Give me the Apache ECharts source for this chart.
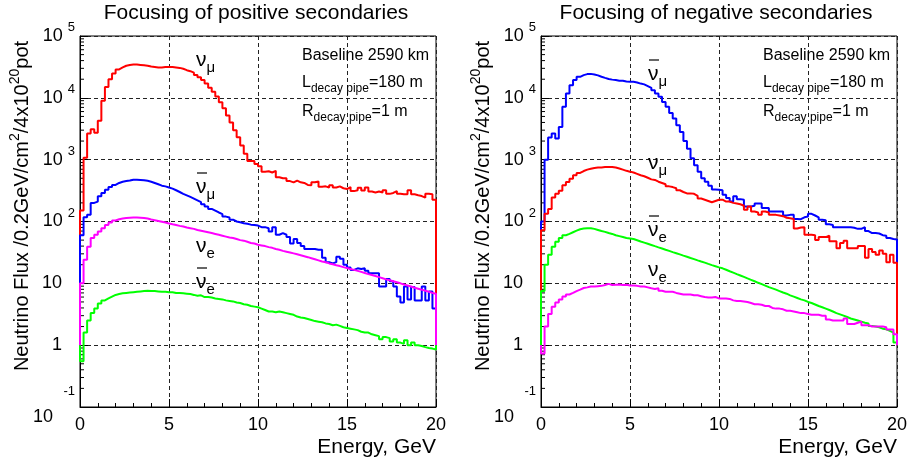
<!DOCTYPE html>
<html><head><meta charset="utf-8">
<script src="https://cdn.jsdelivr.net/npm/echarts@6/dist/echarts.min.js"></script>
<style>html,body{margin:0;padding:0;background:#fff}#c{width:912px;height:466px}</style>
</head><body><div id="c"></div>
<script>
// ---- data: bin low edges (GeV), 100 bins of 0.2 GeV ----
const binLow = Array.from({length: 100}, (_, i) => +(i * 0.2).toFixed(1));
const xTicks = [0, 5, 10, 15, 20];
const panelTitles = ['Focusing of positive secondaries', 'Focusing of negative secondaries'];

// Left panel: positive focusing
const posNuMu = [150,1070,2660,3100,2720,4270,8950,15000,19900,24800,
 28800,31000,33000,34000,34500,34500,34000,33500,33000,32000,
 31500,31000,31000,31500,31500,31500,31000,30500,29500,28000,
 27000,25500,23500,21500,19500,17000,14500,12500,10500,8500,
 6800,5200,4000,3000,2300,1700,1250,950,950,850,
 780,640,650,620,660,520,500,500,450,430,
 460,430,420,390,385,430,445,365,370,355,
 385,355,370,345,335,360,310,320,350,318,
 355,305,295,305,295,320,280,290,310,280,
 275,275,320,275,265,258,243,280,275,225];
const posAntiNuMu = [60,117,128,200,210,255,290,325,360,390,
 420,440,450,460,475,475,470,465,455,440,
 420,400,380,370,355,340,320,300,280,265,
 250,235,220,205,190,175,160,150,140,132,
 120,116,107,100,97,94,92,89,88,86,
 81,81,78,69,81,61,65,61,56,44,
 52,45,40,36,36,36,35,35,26,22,
 21,22,27,25,20,18,16.5,17.5,17,17.5,
 16,14.5,14.5,14.5,8.9,8.9,11.7,10.8,8.9,6.1,
 4.9,8.9,5.5,8.7,5.3,5.3,8.9,5.3,7.4,3.9];
const posNuE = [10,24,39,54,61,69,78,88,96,104,
 109,112,114,115,116,116,115,114,112,108,
 105,102,99,96,93,90,88,85,83,80,
 78,76,73,71,69,67,65,63,61,59,
 57,55,54,52,50,49,47,45,44,42,
 41,40,38.5,37.5,36,35,33.5,32.5,31.5,30.5,
 29.5,28.5,27.5,26.5,25.5,24.5,23.5,22.5,22,21,
 20.3,19.6,19,18.3,17.7,17.1,16.5,15.9,15.3,14.7,
 14.1,13.6,13.1,12.6,12.1,11.6,11.2,10.8,10.4,10,
 9.6,9.2,8.9,8.5,8.2,7.9,7.6,7.3,7.0,6.8];
const posAntiNuE = [0.55,1.6,2.5,3.3,3.9,4.7,5.3,5.7,6.1,6.5,
 6.7,6.9,7.0,7.1,7.2,7.3,7.4,7.5,7.6,7.5,
 7.5,7.4,7.3,7.3,7.2,7.2,7.0,7.0,6.9,6.8,
 6.7,6.5,6.3,6.4,6.0,6.0,5.9,5.7,5.6,5.5,
 5.3,5.2,5.1,4.9,4.8,4.6,4.5,4.3,4.2,4.1,
 3.9,3.7,3.5,3.5,3.4,3.5,3.4,3.3,3.2,3.1,
 2.9,2.8,2.75,2.65,2.55,2.45,2.4,2.35,2.25,2.2,
 2.1,2.15,2.05,1.95,1.9,1.85,1.8,1.75,1.65,1.6,
 1.6,1.5,1.45,1.4,1.25,1.35,1.3,1.15,1.25,1.1,
 1.05,1.2,1.0,1.1,1.0,0.97,0.93,0.9,0.88,0.85];

// Right panel: negative focusing
const negAntiNuMu = [100,1000,2280,2640,2190,3380,7150,11700,16000,19400,
 21900,23300,24200,24400,23900,23100,21900,21000,20200,19700,
 19400,18900,18900,18400,18200,18200,17700,17000,16500,15500,
 14500,13300,11700,10400,8600,7150,5700,4620,3600,2800,
 2000,1500,1050,810,640,500,440,380,330,326,
 320,270,240,210,255,230,225,175,175,180,
 195,195,165,165,145,145,145,145,125,128,
 128,110,109,117,120,133,125,117,107,105,
 90,88,81,81,81,81,81,79,76,76,
 81,70,65,65,64,60,59,54,52,51];
const negNuMu = [72,133,160,245,280,315,385,435,490,560,
 610,655,690,715,735,745,750,760,760,760,
 745,720,690,660,640,620,590,560,540,510,
 480,470,440,420,400,370,360,345,320,300,
 285,285,280,260,235,225,215,205,215,225,
 225,210,210,200,195,190,180,155,175,145,
 140,128,145,140,128,128,125,122,115,113,
 110,77,80,81,61,61,60,50,56,56,
 59,48,48,37,45,49,37,37,37,40,
 40,26,36,32,29,34,30,22,29,21.6];
const negAntiNuE = [7.5,20,29,39,47,54,60,63,67,71,
 75,77,78,78,76,73,70,68,65,63,
 60,58,56,54,53,52,49.8,47.6,45.6,43.6,
 41.7,39.9,38.2,36.6,35,33.5,32,30.7,29.4,28.1,
 26.9,25.7,24.6,23.5,22.5,21.6,20.6,19.7,18.9,18.1,
 17.5,16.6,15.7,14.9,14.1,13.4,12.7,12.0,11.4,10.8,
 10.2,9.7,9.2,8.7,8.3,7.9,7.5,7.1,6.8,6.4,
 6.1,5.8,5.5,5.3,5.0,4.8,4.55,4.3,4.1,3.9,
 3.7,3.5,3.3,3.15,3.0,2.85,2.7,2.6,2.5,2.4,
 2.3,2.25,2.05,2.0,1.95,1.85,1.8,1.7,1.6,1.1];
const negNuE = [0.73,2.0,3.2,4.2,4.9,5.5,6.1,6.6,7.0,7.5,
 7.9,8.4,8.6,8.9,8.9,9.0,9.1,9.4,9.8,9.4,
 9.5,9.6,9.4,9.5,9.2,9.2,9.1,8.9,8.9,8.6,
 8.3,8.1,8.3,7.6,7.3,7.3,7.3,7.0,6.8,6.6,
 6.6,6.6,6.4,6.4,6.2,6.0,5.9,5.9,6.0,5.7,
 5.7,5.7,5.6,5.3,5.2,5.2,5.1,5.0,4.8,4.6,
 4.6,4.5,4.3,4.3,4.0,3.9,3.9,3.8,3.6,3.6,
 3.5,3.4,3.3,3.3,3.2,3.1,3.1,3.1,3.0,3.0,
 2.6,2.5,2.5,2.5,2.5,2.7,2.2,2.2,2.3,2.4,
 2.1,2.1,2.0,2.0,2.0,2.0,1.95,1.8,1.8,1.5];

// y tick labels (ROOT style 10^n)
const yTickLabels = {
  '-1': '{s2|-1}\n{b2|10}', '0': '{p|1}', '1': '{p|10}',
  '2': '{b|10}{s|2}', '3': '{b|10}{s|3}', '4': '{b|10}{s|4}', '5': '{b|10}{s|5}'
};
const histBaseline = 1;

// minor log ticks 2..9 per decade
const minorYTickValues = [];
for (let e = -1; e < 5; e++) for (let m = 2; m <= 9; m++) minorYTickValues.push(+(m * Math.pow(10, e)).toPrecision(3));

const FONT = 'Liberation Sans, Arial, Helvetica, sans-serif';

function histData(vals) {
  const d = [[0, histBaseline]];
  vals.forEach((v, i) => d.push([binLow[i], v]));
  d.push([20, vals[vals.length - 1]]);
  d.push([20, histBaseline]);
  return d;
}

function mkX(i) {
  return {
    gridIndex: i, type: 'value', min: 0, max: 20, interval: 5,
    axisLine: {show: true, onZero: false, lineStyle: {color: '#000', width: 1}},
    axisTick: {show: true, inside: true, length: 8, lineStyle: {color: '#000'}},
    minorTick: {show: true, splitNumber: 5, length: 4, lineStyle: {color: '#000'}},
    axisLabel: {margin: 9, fontSize: 18, color: '#000', fontFamily: FONT,
      formatter: v => xTicks.includes(v) ? String(v) : ''},
    splitLine: {show: true, lineStyle: {color: '#222', type: [4, 3], width: 1}},
    name: 'Energy, GeV', nameLocation: 'end', nameGap: 0,
    nameTextStyle: {fontSize: 21, fontFamily: FONT, color: '#000', align: 'right', verticalAlign: 'top', padding: [30, 0, 0, 0]}
  };
}
function mkY(i) {
  return {
    gridIndex: i, type: 'log', logBase: 10, min: 0.1, max: 100000, splitNumber: 6,
    axisLine: {show: true, onZero: false, lineStyle: {color: '#000', width: 1}},
    axisTick: {show: true, inside: true, length: 8, lineStyle: {color: '#000'}},
    axisLabel: {
      margin: 5, color: '#000', fontFamily: FONT, showMinLabel: true, showMaxLabel: true,
      formatter: v => yTickLabels[String(Math.round(Math.log10(v)))] || '',
      rich: {
        b: {fontSize: 18, lineHeight: 30, fontFamily: FONT, color: '#000'},
        s: {fontSize: 13, lineHeight: 13, verticalAlign: 'top', padding: [0, 0, 0, 5], fontFamily: FONT, color: '#000'},
        p: {fontSize: 18, lineHeight: 30, padding: [0, 13, 0, 0], fontFamily: FONT, color: '#000'},
        s2: {fontSize: 13, lineHeight: 20, verticalAlign: 'top', fontFamily: FONT, color: '#000'},
        b2: {fontSize: 18, lineHeight: 24, padding: [0, 22, 0, 0], fontFamily: FONT, color: '#000'}
      }
    },
    splitLine: {show: true, lineStyle: {color: '#222', type: [4, 3], width: 1}}
  };
}

function lineSeries(i, vals, color) {
  return {
    type: 'line', xAxisIndex: i, yAxisIndex: i, data: histData(vals), step: 'end',
    symbol: 'none', showSymbol: false, silent: true, clip: true,
    lineStyle: {color: color, width: 2}, itemStyle: {color: color}
  };
}
function minorTickSeries(i) {
  return {
    type: 'custom', xAxisIndex: i, yAxisIndex: i, silent: true, clip: false,
    data: minorYTickValues.map(v => [0, v]),
    renderItem: (params, api) => {
      const p = api.coord([0, api.value(1)]);
      return {type: 'line', shape: {x1: p[0], y1: p[1], x2: p[0] + 4, y2: p[1]}, style: {stroke: '#000', lineWidth: 1}};
    }
  };
}

function nuLabel(x, y, sub, anti) {
  const els = [{
    type: 'text', x: x, y: y, z: 100,
    style: {
      text: '{n|ν}{s|' + sub + '}', align: 'left', verticalAlign: 'middle', fill: '#000',
      rich: {
        n: {fontSize: 21, lineHeight: 30, fontFamily: FONT, fill: '#000'},
        s: {fontSize: 15, lineHeight: 15, verticalAlign: 'bottom', fontFamily: FONT, fill: '#000'}
      }
    }
  }];
  if (anti) els.push({type: 'line', z: 100, shape: {x1: x + 1, y1: y - 14, x2: x + 11, y2: y - 14}, style: {stroke: '#000', lineWidth: 1.2}});
  return els;
}
function infoTexts(x) {
  const rich = {
    b: {fontSize: 16, lineHeight: 24, fontFamily: FONT, fill: '#000'},
    s: {fontSize: 12, lineHeight: 12, verticalAlign: 'bottom', fontFamily: FONT, fill: '#000'}
  };
  return [
    {type: 'text', x: x, y: 56, z: 100, style: {text: '{b|Baseline 2590 km}', rich, verticalAlign: 'middle', fill: '#000'}},
    {type: 'text', x: x, y: 83, z: 100, style: {text: '{b|L}{s|decay pipe}{b|=180 m}', rich, verticalAlign: 'middle', fill: '#000'}},
    {type: 'text', x: x, y: 112, z: 100, style: {text: '{b|R}{s|decay pipe}{b|=1 m}', rich, verticalAlign: 'middle', fill: '#000'}}
  ];
}
function yTitle(x) {
  return {
    type: 'text', x: x, y: 206, rotation: Math.PI / 2, z: 100,
    style: {
      text: '{t|Neutrino Flux /0.2GeV/cm}{u|2}{t|/4x10}{u|20}{t|pot}', align: 'center', verticalAlign: 'middle', fill: '#000',
      rich: {
        t: {fontSize: 20, lineHeight: 28, fontFamily: FONT, fill: '#000'},
        u: {fontSize: 14, lineHeight: 14, verticalAlign: 'top', fontFamily: FONT, fill: '#000'}
      }
    }
  };
}

const chart = echarts.init(document.getElementById('c'), null, {renderer: 'canvas', width: 912, height: 466});
const gridBase = {top: 36, width: 356, height: 371, show: true, borderColor: '#000', borderWidth: 1, backgroundColor: 'transparent', containLabel: false};
const titleStyle = {fontFamily: FONT, fontSize: 21, fontWeight: 'normal', color: '#000'};
chart.setOption({
  animation: false,
  backgroundColor: '#fff',
  title: [
    {text: panelTitles[0], left: 251, top: -2, textAlign: 'center', textStyle: titleStyle},
    {text: panelTitles[1], left: 711, top: -2, textAlign: 'center', textStyle: titleStyle}
  ],
  grid: [Object.assign({left: 80}, gridBase), Object.assign({left: 541}, gridBase)],
  xAxis: [mkX(0), mkX(1)],
  yAxis: [mkY(0), mkY(1)],
  series: [
    lineSeries(0, posNuMu, '#ff0000'),
    lineSeries(0, posAntiNuMu, '#0000ff'),
    lineSeries(0, posNuE, '#ff00ff'),
    lineSeries(0, posAntiNuE, '#00ff00'),
    minorTickSeries(0),
    lineSeries(1, negAntiNuMu, '#0000ff'),
    lineSeries(1, negNuMu, '#ff0000'),
    lineSeries(1, negAntiNuE, '#00ff00'),
    lineSeries(1, negNuE, '#ff00ff'),
    minorTickSeries(1)
  ],
  graphic: [].concat(
    nuLabel(196, 60, 'μ', false), nuLabel(196, 187, 'μ', true), nuLabel(196, 246, 'e', false), nuLabel(196, 282, 'e', true),
    nuLabel(648, 74, 'μ', true), nuLabel(648, 163, 'μ', false), nuLabel(648, 230, 'e', true), nuLabel(648, 270, 'e', false),
    infoTexts(302), infoTexts(763),
    [yTitle(22), yTitle(483)]
  )
});
</script>
</body></html>
